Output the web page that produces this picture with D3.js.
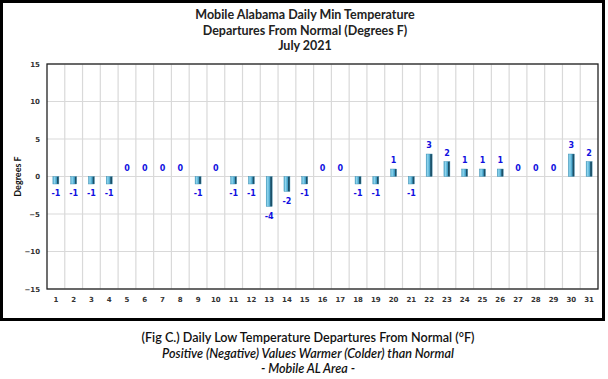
<!DOCTYPE html>
<html><head><meta charset="utf-8">
<script src="https://cdn.jsdelivr.net/npm/d3@7"></script>
<style>body{margin:0;background:#fff}svg{display:block}</style>
</head><body>
<script>
const days = d3.range(1, 32).map(String);
const departures = [-1,-1,-1,-1,0,0,0,0,-1,0,-1,-1,-4,-2,-1,0,0,-1,-1,1,-1,3,2,1,1,1,0,0,0,3,2];
const yTicks = [-15,-10,-5,0,5,10,15];
const titleLines = ["Mobile Alabama Daily Min Temperature","Departures From Normal (Degrees F)","July 2021"];
const captionLines = ["(Fig C.) Daily Low Temperature Departures From Normal (°F)","Positive (Negative) Values Warmer (Colder) than Normal","- Mobile AL Area -"];
const yLabel = "Degrees F";

const W = 608, H = 379;
const m = {l: 47, r: 10, t: 64, b: 90};
const svg = d3.select("body").append("svg").attr("width", W).attr("height", H);

const defs = svg.append("defs");
const g = defs.append("linearGradient").attr("id","bar").attr("x1","0").attr("x2","1").attr("y1","0").attr("y2","0");
g.append("stop").attr("offset","0%").attr("stop-color","#4fa9cc");
g.append("stop").attr("offset","25%").attr("stop-color","#8fd6ef");
g.append("stop").attr("offset","65%").attr("stop-color","#3d9cc4");
g.append("stop").attr("offset","75%").attr("stop-color","#1d4f66");
g.append("stop").attr("offset","100%").attr("stop-color","#1d4f66");

// outer frame
svg.append("rect").attr("x",1.5).attr("y",1.5).attr("width",602).attr("height",318)
  .attr("fill","#fff").attr("stroke","#000").attr("stroke-width",3);

const x = d3.scaleBand().domain(days).range([m.l, W - m.r]);
const y = d3.scaleLinear().domain([-15, 15]).range([289, 64]);

// title
svg.append("g").selectAll("text").data(titleLines).join("text")
  .attr("x", 305).attr("y", (d,i) => 19 + i*15.5)
  .attr("text-anchor","middle").attr("font-family","Lato, sans-serif")
  .attr("font-weight","bold").attr("font-size",12.5).attr("fill","#222").text(d => d);

// gridlines
const grid = svg.append("g");
grid.selectAll("line.h").data(yTicks).join("line").attr("class","h")
  .attr("x1", m.l).attr("x2", W - m.r).attr("y1", d => y(d)).attr("y2", d => y(d))
  .attr("stroke","#d9d9d9").attr("stroke-width",1.2);
grid.selectAll("line.v").data(days.slice(1)).join("line").attr("class","v")
  .attr("x1", d => x(d)).attr("x2", d => x(d)).attr("y1", y(15)).attr("y2", y(-15))
  .attr("stroke","#d9d9d9").attr("stroke-width",1.2);

// plot border
svg.append("rect").attr("x", m.l).attr("y", y(15)).attr("width", W - m.r - m.l).attr("height", y(-15) - y(15))
  .attr("fill","none").attr("stroke","#222").attr("stroke-width",1.3);

// axes
const yAxis = svg.append("g").attr("transform",`translate(${m.l},0)`)
  .call(d3.axisLeft(y).tickValues(yTicks).tickSize(0).tickPadding(7));
yAxis.select(".domain").remove();
yAxis.selectAll("text").attr("font-family","DejaVu Sans, sans-serif").attr("font-size",7).attr("font-weight","bold").attr("fill","#333");

const xAxis = svg.append("g").attr("transform",`translate(0,${y(-15)})`)
  .call(d3.axisBottom(x).tickSize(0).tickPadding(8));
xAxis.select(".domain").remove();
xAxis.selectAll("text").attr("font-family","DejaVu Sans, sans-serif").attr("font-size",7).attr("font-weight","bold").attr("fill","#333");

svg.append("text").attr("transform",`translate(21,${y(0)}) rotate(-90)`)
  .attr("text-anchor","middle").attr("font-family","Lato, sans-serif").attr("font-weight","bold")
  .attr("font-size",9).attr("fill","#111").text(yLabel);

// bars
const bw = 6;
svg.append("g").selectAll("rect").data(departures.map((v,i)=>({d:days[i],v})).filter(o=>o.v!==0)).join("rect")
  .attr("x", o => x(o.d) + x.bandwidth()/2 - bw/2)
  .attr("width", bw)
  .attr("y", o => y(Math.max(0,o.v)))
  .attr("height", o => Math.abs(y(o.v) - y(0)))
  .attr("fill","url(#bar)").attr("stroke","#3a8cb0").attr("stroke-width",0.4);

// value labels
svg.append("g").selectAll("text").data(departures.map((v,i)=>({d:days[i],v}))).join("text")
  .attr("x", o => x(o.d) + x.bandwidth()/2)
  .attr("y", o => o.v < 0 ? y(o.v) + 12 : y(o.v) - 6)
  .attr("text-anchor","middle").attr("font-family","DejaVu Sans, sans-serif")
  .attr("font-weight","bold").attr("font-size",8).attr("fill","#1010e0").text(o => o.v);

// caption
svg.append("g").selectAll("text").data(captionLines).join("text")
  .attr("x", 308).attr("y", (d,i) => 342 + i*15.5)
  .attr("text-anchor","middle").attr("font-family","Lato, sans-serif")
  .attr("font-weight", "600")
  .attr("font-style", (d,i) => i===0 ? "normal" : "italic")
  .attr("font-size",12.6).attr("fill","#111").text(d => d);
</script>
</body></html>
